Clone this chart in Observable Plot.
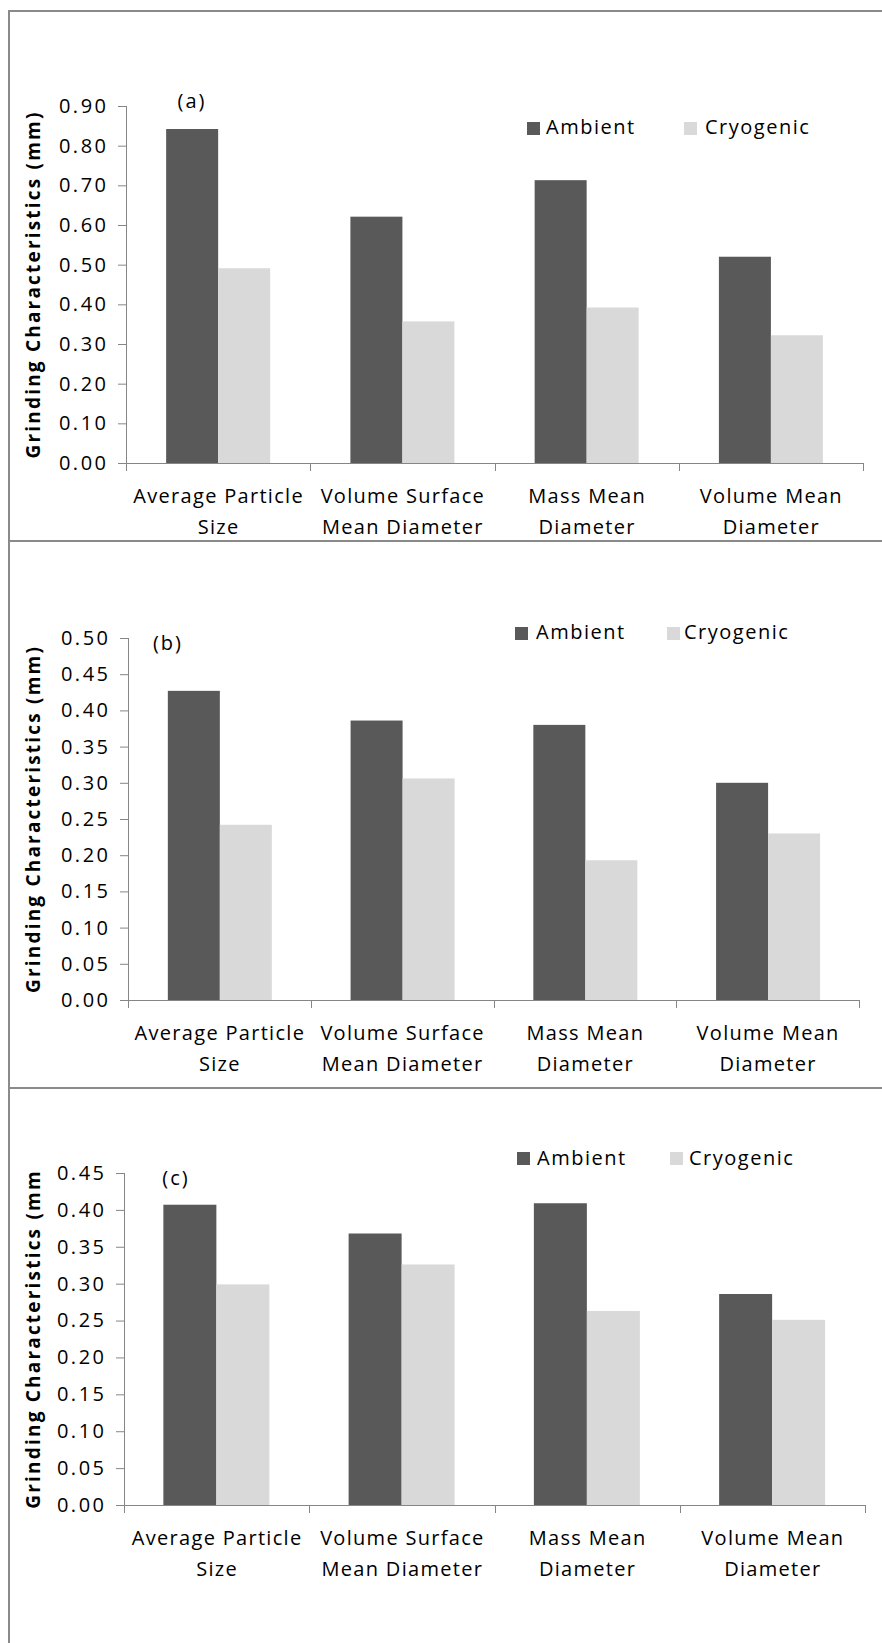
<!DOCTYPE html>
<html>
<head>
<meta charset="utf-8">
<script src="https://cdn.jsdelivr.net/npm/d3@7"></script>
<script src="https://cdn.jsdelivr.net/npm/@observablehq/plot@0.6"></script>
<style>
  html, body { margin: 0; padding: 0; background: #fff; }
  body { font-family: "Open Sans", sans-serif; color: #000; }
  #page { position: relative; width: 882px; height: 1643px; overflow: hidden; background: #fff; }
  .panel { position: absolute; left: 0; }
  .rule { position: absolute; background: #8a8a8a; }
  .sw { position: absolute; width: 13px; height: 13px; }
  .lg { position: absolute; font-size: 20px; line-height: 20px; letter-spacing: 1.5px; white-space: nowrap; }
  .tag { position: absolute; width: 60px; text-align: center; font-size: 20px; line-height: 20px; letter-spacing: 2px; }
</style>
</head>
<body>
<div id="page"></div>
<script>
// ---- data ----
const categories = ["Average Particle Size", "Volume Surface Mean Diameter", "Mass Mean Diameter", "Volume Mean Diameter"];
const categoryLines = ["Average Particle\nSize", "Volume Surface\nMean Diameter", "Mass Mean\nDiameter", "Volume Mean\nDiameter"];
const series = ["Ambient", "Cryogenic"];
const seriesColors = ["#595959", "#d9d9d9"];

const ambientA = [0.842, 0.621, 0.713, 0.520];
const cryogenicA = [0.491, 0.357, 0.392, 0.322];
const ambientB = [0.427, 0.386, 0.380, 0.300];
const cryogenicB = [0.242, 0.306, 0.193, 0.230];
const ambientC = [0.407, 0.368, 0.409, 0.286];
const cryogenicC = [0.299, 0.326, 0.263, 0.251];

const ticksA = [0, 0.1, 0.2, 0.3, 0.4, 0.5, 0.6, 0.7, 0.8, 0.9];
const ticksB = [0, 0.05, 0.1, 0.15, 0.2, 0.25, 0.3, 0.35, 0.4, 0.45, 0.5];
const ticksC = [0, 0.05, 0.1, 0.15, 0.2, 0.25, 0.3, 0.35, 0.4, 0.45];

const panelTags = ["(a)", "(b)", "(c)"];
const yTitles = ["Grinding Characteristics (mm)", "Grinding Characteristics (mm)", "Grinding Characteristics (mm"];

// ---- layout of the three stacked panels ----
const layout = [
  {top: 11,   height: 530, mt: 95, mb: 78,  ml: 126, mr: 19,
   tag: {cx: 192, base: 109}, legend: {y: 122, base: 135, x: [527, 684], tx: [546, 705]}},
  {top: 542,  height: 546, mt: 96, mb: 88,  ml: 128, mr: 23,
   tag: {cx: 168, base: 651}, legend: {y: 627, base: 640, x: [515, 667], tx: [536, 684]}},
  {top: 1089, height: 554, mt: 84, mb: 138, ml: 124, mr: 17,
   tag: {cx: 176, base: 1186}, legend: {y: 1152, base: 1166, x: [517, 670], tx: [537, 689]}}
];

const panels = [
  {ambient: ambientA, cryogenic: cryogenicA, ticks: ticksA},
  {ambient: ambientB, cryogenic: cryogenicB, ticks: ticksB},
  {ambient: ambientC, cryogenic: cryogenicC, ticks: ticksC}
];

const page = document.getElementById("page");
const axisGray = "#868686";
const padInner = 0.425, padOuter = 0.2125;

panels.forEach((p, k) => {
  const L = layout[k];
  const rows = categories.flatMap((c, i) => [
    {category: c, series: series[0], value: p.ambient[i]},
    {category: c, series: series[1], value: p.cryogenic[i]}
  ]);
  const yMax = p.ticks[p.ticks.length - 1];

  // the y axis sits on the first facet; shift it back to the outer edge of the category band
  const step = (882 - L.ml - L.mr) / (categories.length - padInner + 2 * padOuter);
  const facetGap = step * padOuter;

  const chart = Plot.plot({
    width: 882,
    height: L.height,
    marginTop: L.mt, marginBottom: L.mb, marginLeft: L.ml, marginRight: L.mr,
    style: {fontFamily: '"Open Sans", sans-serif', fontSize: "20px", color: "#000", background: "transparent", overflow: "visible"},
    fx: {domain: categories, paddingInner: padInner, paddingOuter: padOuter, round: false, axis: null, label: null},
    x: {domain: series, padding: 0, axis: null},
    y: {domain: [0, yMax], axis: null},
    color: {domain: series, range: seriesColors},
    marks: [
      Plot.barY(rows, {fx: "category", x: "series", y: "value", fill: "series"}),
      Plot.axisY(p.ticks, {tickFormat: d3.format(".2f"), tickSize: 8, tickPadding: 10, dx: -facetGap, stroke: axisGray, fill: "#000", label: null}),
      Plot.text(categories, {fx: d => d, text: (d, i) => categoryLines[i], frameAnchor: "bottom", lineAnchor: "top", dy: 17, lineHeight: 1.55, fontSize: 20, fill: "#000"})
    ]
  });

  const svg = d3.select(chart);
  svg.selectAll("text").style("letter-spacing", "1.3px");
  svg.selectAll('g[aria-label="y-axis tick label"] text').style("letter-spacing", "2.5px").style("font-size", "20px");

  // category-boundary ticks, baseline and vertical axis line from the scales
  const fx = chart.scale("fx");
  const y = chart.scale("y");
  const gap = (fx.step - fx.bandwidth) / 2;
  const bounds = categories.map(c => fx.apply(c) - gap);
  bounds.push(fx.apply(categories[categories.length - 1]) + fx.bandwidth + gap);
  const y0 = y.apply(0), y1 = y.apply(yMax);

  const g = svg.append("g").attr("stroke", axisGray).attr("stroke-width", 1).attr("shape-rendering", "crispEdges");
  g.append("line").attr("x1", bounds[0]).attr("x2", bounds[bounds.length - 1]).attr("y1", y0 + 0.5).attr("y2", y0 + 0.5);
  g.append("line").attr("x1", bounds[0] + 0.5).attr("x2", bounds[0] + 0.5).attr("y1", y0).attr("y2", y1);
  bounds.forEach(b => g.append("line").attr("x1", b + 0.5).attr("x2", b + 0.5).attr("y1", y0).attr("y2", y0 + 8));

  // rotated y-axis title
  const yc = (y0 + y1) / 2;
  svg.append("text")
    .attr("transform", `translate(40,${yc}) rotate(-90)`)
    .attr("text-anchor", "middle")
    .attr("font-weight", "bold")
    .attr("font-size", 19)
    .attr("fill", "#000")
    .style("letter-spacing", "2.2px")
    .text(yTitles[k]);

  const wrap = document.createElement("div");
  wrap.className = "panel";
  wrap.style.top = L.top + "px";
  wrap.appendChild(chart);
  page.appendChild(wrap);

  // legend
  series.forEach((s, j) => {
    const sw = document.createElement("div");
    sw.className = "sw";
    sw.style.left = L.legend.x[j] + "px";
    sw.style.top = L.legend.y + "px";
    sw.style.background = seriesColors[j];
    page.appendChild(sw);
    const t = document.createElement("div");
    t.className = "lg";
    t.style.left = L.legend.tx[j] + "px";
    t.style.top = (L.legend.base - 17.8) + "px";
    t.textContent = s;
    page.appendChild(t);
  });

  // panel tag
  const tag = document.createElement("div");
  tag.className = "tag";
  tag.style.left = (L.tag.cx - 30) + "px";
  tag.style.top = (L.tag.base - 17.8) + "px";
  tag.textContent = panelTags[k];
  page.appendChild(tag);
});

// outer frame and panel separators
[
  {left: 8, top: 10, width: 874, height: 2},
  {left: 8, top: 10, width: 2, height: 1633},
  {left: 8, top: 540, width: 874, height: 2},
  {left: 8, top: 1087, width: 874, height: 2}
].forEach(r => {
  const d = document.createElement("div");
  d.className = "rule";
  Object.assign(d.style, {left: r.left + "px", top: r.top + "px", width: r.width + "px", height: r.height + "px"});
  page.appendChild(d);
});
</script>
</body>
</html>
